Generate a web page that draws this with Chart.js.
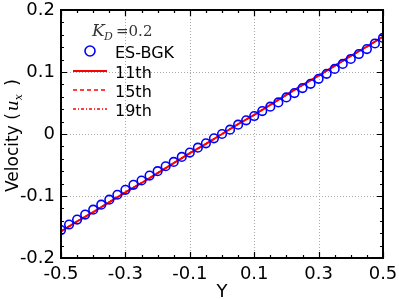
<!DOCTYPE html>
<html>
<head>
<meta charset="utf-8">
<script src="https://cdn.jsdelivr.net/npm/chart.js@4/dist/chart.umd.min.js"></script>
<style>
  html, body { margin: 0; padding: 0; background: #fff; }
  #wrap { width: 399px; height: 299px; }
</style>
</head>
<body>
<div id="wrap"><canvas id="chart" width="399" height="299"></canvas></div>
<script>
// ES-BGK reference points
const esY = [-0.5, -0.475, -0.45, -0.425, -0.4, -0.375, -0.35, -0.325, -0.3, -0.275, -0.25, -0.225, -0.2, -0.175, -0.15, -0.125, -0.1, -0.075, -0.05, -0.025, 0,
             0.025, 0.05, 0.075, 0.1, 0.125, 0.15, 0.175, 0.2, 0.225, 0.25, 0.275, 0.3, 0.325, 0.35, 0.375, 0.4, 0.425, 0.45, 0.475, 0.5];
const esU = [-0.155, -0.146, -0.138, -0.130, -0.122, -0.114, -0.106, -0.098, -0.090, -0.082, -0.075, -0.067, -0.060, -0.052, -0.045, -0.037, -0.030, -0.022, -0.015, -0.007, 0,
             0.007, 0.015, 0.022, 0.029, 0.037, 0.044, 0.051, 0.059, 0.066, 0.074, 0.081, 0.089, 0.097, 0.105, 0.113, 0.121, 0.129, 0.137, 0.146, 0.155];

// moment solutions (11th, 15th, 19th order)
const lineY = [-0.5, -0.45, -0.4, -0.35, -0.3, -0.25, -0.2, -0.15, -0.1, -0.05, 0, 0.05, 0.1, 0.15, 0.2, 0.25, 0.3, 0.35, 0.4, 0.45, 0.5];
const u11 = [-0.157, -0.141, -0.126, -0.110, -0.094, -0.079, -0.063, -0.047, -0.031, -0.016, 0, 0.016, 0.031, 0.047, 0.063, 0.079, 0.094, 0.110, 0.126, 0.141, 0.157];
const u15 = [-0.157, -0.141, -0.126, -0.110, -0.094, -0.079, -0.063, -0.047, -0.031, -0.016, 0, 0.016, 0.031, 0.047, 0.063, 0.079, 0.094, 0.110, 0.126, 0.141, 0.157];
const u19 = [-0.157, -0.141, -0.126, -0.110, -0.094, -0.079, -0.063, -0.047, -0.031, -0.016, 0, 0.016, 0.031, 0.047, 0.063, 0.079, 0.094, 0.110, 0.126, 0.141, 0.157];

const xTicks = [-0.5, -0.3, -0.1, 0.1, 0.3, 0.5];
const yTicks = [-0.2, -0.1, 0, 0.1, 0.2];
const xMinor = [-0.45, -0.4, -0.35, -0.25, -0.2, -0.15, -0.05, 0, 0.05, 0.15, 0.2, 0.25, 0.35, 0.4, 0.45];
const yMinor = [-0.18, -0.16, -0.14, -0.12, -0.08, -0.06, -0.04, -0.02, 0.02, 0.04, 0.06, 0.08, 0.12, 0.14, 0.16, 0.18];

const FONT = 'DejaVu Sans';
const pts = (xs, ys) => xs.map((x, i) => ({ x: x, y: ys[i] }));

// dotted grid under the data
const dotGrid = {
  id: 'dotGrid',
  beforeDatasetsDraw(chart) {
    const c = chart.ctx;
    const a = chart.chartArea;
    const xs = chart.scales.x, ys = chart.scales.y;
    c.save();
    c.strokeStyle = '#aaa';
    c.lineWidth = 1;
    c.setLineDash([1, 2]);
    c.beginPath();
    xTicks.slice(1, -1).forEach(v => {
      const px = Math.round(xs.getPixelForValue(v)) + 0.5;
      c.moveTo(px, a.top); c.lineTo(px, a.bottom);
    });
    yTicks.slice(1, -1).forEach(v => {
      const py = Math.round(ys.getPixelForValue(v)) + 0.5;
      c.moveTo(a.left, py); c.lineTo(a.right, py);
    });
    c.stroke();
    c.restore();
  }
};

// inward ticks, frame, axis titles and the legend box
const decor = {
  id: 'decor',
  afterDraw(chart) {
    const c = chart.ctx;
    const a = chart.chartArea;
    const xs = chart.scales.x, ys = chart.scales.y;
    c.save();
    c.strokeStyle = '#000';
    c.lineWidth = 1.2;
    c.beginPath();
    xTicks.concat(xMinor).forEach(v => {
      const len = xTicks.includes(v) ? 6 : 3;
      const px = Math.round(xs.getPixelForValue(v)) + 0.5;
      c.moveTo(px, a.bottom); c.lineTo(px, a.bottom - len);
      c.moveTo(px, a.top); c.lineTo(px, a.top + len);
    });
    yTicks.concat(yMinor).forEach(v => {
      const len = yTicks.includes(v) ? 6 : 3;
      const py = Math.round(ys.getPixelForValue(v)) + 0.5;
      c.moveTo(a.left, py); c.lineTo(a.left + len, py);
      c.moveTo(a.right, py); c.lineTo(a.right - len, py);
    });
    c.stroke();
    c.lineWidth = 2;
    c.strokeRect(a.left, a.top, a.right - a.left, a.bottom - a.top);

    // axis titles
    c.fillStyle = '#000';
    c.textBaseline = 'alphabetic';
    c.textAlign = 'center';
    c.font = '18px ' + FONT;
    c.fillText('Y', (a.left + a.right) / 2, 297);

    c.save();
    c.translate(18, 139);
    c.rotate(-Math.PI / 2);
    c.textAlign = 'left';
    c.font = '17px ' + FONT;
    const t1 = 'Velocity (';
    const w1 = c.measureText(t1).width;
    c.font = 'italic 17px "DejaVu Serif"';
    const wu = c.measureText('u').width;
    c.font = 'italic 11px "DejaVu Serif"';
    const wx = c.measureText('x').width;
    c.font = '17px ' + FONT;
    const total = w1 + wu + wx + 10;
    let x0 = -total / 2;
    c.fillText(t1, x0, 0);
    x0 += w1 + 2;
    c.font = 'italic 17px "DejaVu Serif"';
    c.fillText('u', x0, 0);
    x0 += wu;
    c.font = 'italic 11px "DejaVu Serif"';
    c.fillText('x', x0, 4);
    x0 += wx + 3;
    c.font = '17px ' + FONT;
    c.fillText(' )', x0, 0);
    c.restore();

    // legend
    c.textAlign = 'left';
    c.font = 'italic 17px "DejaVu Serif"';
    c.fillStyle = '#333';
    c.fillText('K', 92, 36);
    c.font = 'italic 11px "DejaVu Serif"';
    c.fillText('D', 104, 40);
    c.font = '15px "DejaVu Serif"';
    c.fillText('=0.2', 116, 36);

    c.fillStyle = '#000';
    c.font = '16px ' + FONT;
    c.strokeStyle = '#0000ff';
    c.lineWidth = 1.6;
    c.beginPath();
    c.arc(90, 51, 5, 0, Math.PI * 2);
    c.stroke();
    c.fillText('ES-BGK', 115, 58);

    const rows = [[71, [], '11th'], [90, [4, 3], '15th'], [109, [3, 2, 1, 2], '19th']];
    rows.forEach(r => {
      c.strokeStyle = '#ff0000';
      c.lineWidth = r[1].length ? 1.5 : 2;
      c.setLineDash(r[1]);
      c.beginPath();
      c.moveTo(73, r[0]); c.lineTo(107, r[0]);
      c.stroke();
      c.setLineDash([]);
      c.fillText(r[2], 115, r[0] + 7);
    });
    c.restore();
  }
};

new Chart(document.getElementById('chart'), {
  type: 'scatter',
  data: {
    datasets: [
      {
        label: 'ES-BGK',
        data: pts(esY, esU),
        showLine: false,
        pointStyle: 'circle',
        pointRadius: 4.3,
        pointBorderWidth: 1.6,
        pointBorderColor: '#0000ff',
        pointBackgroundColor: 'rgba(0,0,0,0)'
      },
      {
        label: '19th',
        data: pts(lineY, u19),
        showLine: true,
        borderColor: '#ff0000',
        borderWidth: 1.5,
        borderDash: [3, 2, 1, 2],
        pointRadius: 0
      },
      {
        label: '15th',
        data: pts(lineY, u15),
        showLine: true,
        borderColor: '#ff0000',
        borderWidth: 1.5,
        borderDash: [4, 3],
        pointRadius: 0
      },
      {
        label: '11th',
        data: pts(lineY, u11),
        showLine: true,
        borderColor: '#ff0000',
        borderWidth: 2,
        pointRadius: 0
      }
    ]
  },
  options: {
    responsive: false,
    animation: false,
    devicePixelRatio: 1,
    layout: { padding: { left: 0, right: 16, top: 10, bottom: 0 } },
    plugins: { legend: { display: false }, tooltip: { enabled: false } },
    scales: {
      x: {
        type: 'linear',
        min: -0.5,
        max: 0.5,
        afterBuildTicks: s => { s.ticks = xTicks.map(v => ({ value: v })); },
        afterFit: s => { s.height = 41; s.paddingLeft = 0; s.paddingRight = 0; },
        grid: { display: false, drawTicks: false },
        border: { display: false },
        ticks: {
          padding: 6,
          color: '#000',
          font: { family: FONT, size: 18 },
          maxRotation: 0,
          callback: v => String(Math.round(v * 10) / 10)
        }
      },
      y: {
        type: 'linear',
        min: -0.2,
        max: 0.2,
        afterBuildTicks: s => { s.ticks = yTicks.map(v => ({ value: v })); },
        afterFit: s => { s.width = 61; s.paddingTop = 0; s.paddingBottom = 0; },
        grid: { display: false, drawTicks: false },
        border: { display: false },
        ticks: {
          padding: 6,
          color: '#000',
          font: { family: FONT, size: 18 },
          callback: v => String(Math.round(v * 10) / 10)
        }
      }
    }
  },
  plugins: [dotGrid, decor]
});
</script>
</body>
</html>
